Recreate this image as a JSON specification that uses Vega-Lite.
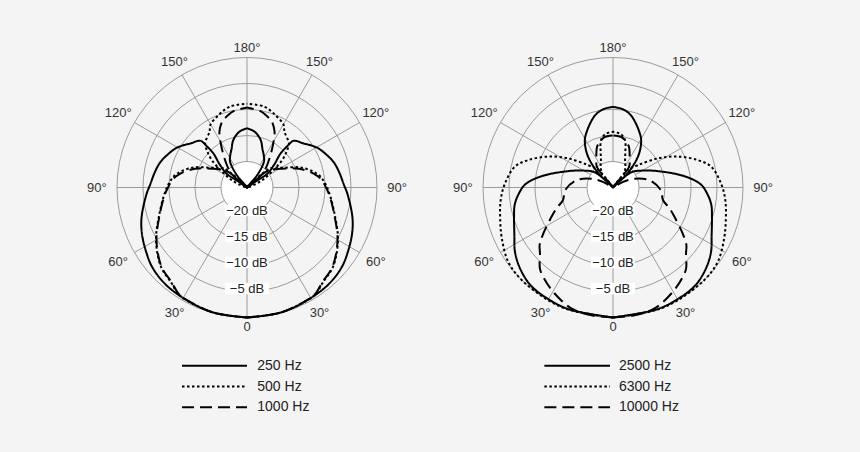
{
  "$schema": "https://vega.github.io/schema/vega-lite/v6.json",
  "background": "#f4f4f4",
  "padding": 0,
  "spacing": 0,
  "config": {"view": {"stroke": null}, "font": "Liberation Sans"},
  "datasets": {
    "rings": [{"db": -20}, {"db": -15}, {"db": -10}, {"db": -5}, {"db": 0}],
    "spokes": [{"a": 0}, {"a": 30}, {"a": 60}, {"a": 90}, {"a": 120}, {"a": 150}, {"a": 180}, {"a": 210}, {"a": 240}, {"a": 270}, {"a": 300}, {"a": 330}],
    "angles": [
      {"t": "0", "a": 0}, {"t": "30°", "a": 30}, {"t": "30°", "a": -30},
      {"t": "60°", "a": 60}, {"t": "60°", "a": -60}, {"t": "90°", "a": 90}, {"t": "90°", "a": -90},
      {"t": "120°", "a": 120}, {"t": "120°", "a": -120}, {"t": "150°", "a": 150}, {"t": "150°", "a": -150},
      {"t": "180°", "a": 180}
    ],
    "dbl": [{"t": "−20 dB", "db": -20}, {"t": "−15 dB", "db": -15}, {"t": "−10 dB", "db": -10}, {"t": "−5 dB", "db": -5}],
    "legL": [{"f": "250 Hz", "k": 0}, {"f": "500 Hz", "k": 1}, {"f": "1000 Hz", "k": 2}],
    "legR": [{"f": "2500 Hz", "k": 0}, {"f": "6300 Hz", "k": 1}, {"f": "10000 Hz", "k": 2}],
    "L": [
      {"f": "250 Hz", "i": 0, "a": 0, "db": 0},
      {"f": "250 Hz", "i": 1, "a": 15, "db": -0.1},
      {"f": "250 Hz", "i": 2, "a": 27, "db": -0.4},
      {"f": "250 Hz", "i": 3, "a": 40, "db": -0.65},
      {"f": "250 Hz", "i": 4, "a": 50, "db": -1.2},
      {"f": "250 Hz", "i": 5, "a": 57.5, "db": -2.0},
      {"f": "250 Hz", "i": 6, "a": 66, "db": -2.9},
      {"f": "250 Hz", "i": 7, "a": 74, "db": -3.9},
      {"f": "250 Hz", "i": 8, "a": 86, "db": -5.6},
      {"f": "250 Hz", "i": 9, "a": 92, "db": -6.4},
      {"f": "250 Hz", "i": 10, "a": 99, "db": -7.0},
      {"f": "250 Hz", "i": 11, "a": 106, "db": -7.6},
      {"f": "250 Hz", "i": 12, "a": 112, "db": -8.4},
      {"f": "250 Hz", "i": 13, "a": 119, "db": -9.4},
      {"f": "250 Hz", "i": 14, "a": 124, "db": -10.4},
      {"f": "250 Hz", "i": 15, "a": 129, "db": -11.4},
      {"f": "250 Hz", "i": 16, "a": 133, "db": -11.9},
      {"f": "250 Hz", "i": 17, "a": 135.3, "db": -12.4},
      {"f": "250 Hz", "i": 18, "a": 135.8, "db": -14},
      {"f": "250 Hz", "i": 19, "a": 135.4, "db": -15.8},
      {"f": "250 Hz", "i": 20, "a": 130, "db": -18.2},
      {"f": "250 Hz", "i": 21, "a": 124, "db": -20.3},
      {"f": "250 Hz", "i": 22, "a": 125, "db": -23},
      {"f": "250 Hz", "i": 23, "a": 130, "db": -25},
      {"f": "250 Hz", "i": 24, "a": 140.5, "db": -21.9},
      {"f": "250 Hz", "i": 25, "a": 146.6, "db": -19.1},
      {"f": "250 Hz", "i": 26, "a": 152, "db": -18.1},
      {"f": "250 Hz", "i": 27, "a": 157.8, "db": -17.1},
      {"f": "250 Hz", "i": 28, "a": 163.9, "db": -15.5},
      {"f": "250 Hz", "i": 29, "a": 172, "db": -14.2},
      {"f": "250 Hz", "i": 30, "a": 180, "db": -13.6},
      {"f": "500 Hz", "i": 0, "a": 0, "db": 0},
      {"f": "500 Hz", "i": 1, "a": 15, "db": -0.1},
      {"f": "500 Hz", "i": 2, "a": 30, "db": -0.45},
      {"f": "500 Hz", "i": 3, "a": 33.4, "db": -0.7},
      {"f": "500 Hz", "i": 4, "a": 38.4, "db": -1.6},
      {"f": "500 Hz", "i": 5, "a": 47.3, "db": -2.5},
      {"f": "500 Hz", "i": 6, "a": 60, "db": -4.8},
      {"f": "500 Hz", "i": 7, "a": 73.8, "db": -7.5},
      {"f": "500 Hz", "i": 8, "a": 84, "db": -8.9},
      {"f": "500 Hz", "i": 9, "a": 90, "db": -9.6},
      {"f": "500 Hz", "i": 10, "a": 95.6, "db": -10.3},
      {"f": "500 Hz", "i": 11, "a": 101.3, "db": -11.3},
      {"f": "500 Hz", "i": 12, "a": 110.5, "db": -14.0},
      {"f": "500 Hz", "i": 13, "a": 118, "db": -16.9},
      {"f": "500 Hz", "i": 14, "a": 124, "db": -18.2},
      {"f": "500 Hz", "i": 15, "a": 129.5, "db": -19.2},
      {"f": "500 Hz", "i": 16, "a": 132, "db": -21},
      {"f": "500 Hz", "i": 17, "a": 135, "db": -25},
      {"f": "500 Hz", "i": 18, "a": 115, "db": -22},
      {"f": "500 Hz", "i": 19, "a": 123, "db": -19.1},
      {"f": "500 Hz", "i": 20, "a": 128, "db": -16.4},
      {"f": "500 Hz", "i": 21, "a": 132, "db": -14.8},
      {"f": "500 Hz", "i": 22, "a": 136.5, "db": -13.3},
      {"f": "500 Hz", "i": 23, "a": 146, "db": -12.1},
      {"f": "500 Hz", "i": 24, "a": 150, "db": -11.0},
      {"f": "500 Hz", "i": 25, "a": 159, "db": -10.0},
      {"f": "500 Hz", "i": 26, "a": 168, "db": -9.1},
      {"f": "500 Hz", "i": 27, "a": 180, "db": -8.9},
      {"f": "1000 Hz", "i": 0, "a": 0, "db": 0},
      {"f": "1000 Hz", "i": 1, "a": 15, "db": -0.1},
      {"f": "1000 Hz", "i": 2, "a": 30, "db": -0.5},
      {"f": "1000 Hz", "i": 3, "a": 33.4, "db": -0.8},
      {"f": "1000 Hz", "i": 4, "a": 38.4, "db": -1.7},
      {"f": "1000 Hz", "i": 5, "a": 47.3, "db": -2.6},
      {"f": "1000 Hz", "i": 6, "a": 60, "db": -4.9},
      {"f": "1000 Hz", "i": 7, "a": 73.8, "db": -7.6},
      {"f": "1000 Hz", "i": 8, "a": 84, "db": -9.0},
      {"f": "1000 Hz", "i": 9, "a": 90, "db": -9.8},
      {"f": "1000 Hz", "i": 10, "a": 96, "db": -10.6},
      {"f": "1000 Hz", "i": 11, "a": 101, "db": -11.7},
      {"f": "1000 Hz", "i": 12, "a": 110, "db": -14.4},
      {"f": "1000 Hz", "i": 13, "a": 118, "db": -17.3},
      {"f": "1000 Hz", "i": 14, "a": 125, "db": -19.0},
      {"f": "1000 Hz", "i": 15, "a": 130, "db": -20.5},
      {"f": "1000 Hz", "i": 16, "a": 134, "db": -25},
      {"f": "1000 Hz", "i": 17, "a": 131, "db": -21.3},
      {"f": "1000 Hz", "i": 18, "a": 137, "db": -19.5},
      {"f": "1000 Hz", "i": 19, "a": 142.4, "db": -17.9},
      {"f": "1000 Hz", "i": 20, "a": 148.7, "db": -15.4},
      {"f": "1000 Hz", "i": 21, "a": 153.8, "db": -13.0},
      {"f": "1000 Hz", "i": 22, "a": 160, "db": -11.3},
      {"f": "1000 Hz", "i": 23, "a": 164, "db": -10.8},
      {"f": "1000 Hz", "i": 24, "a": 170, "db": -10.1},
      {"f": "1000 Hz", "i": 25, "a": 180, "db": -9.6}
    ],
    "R": [
      {"f": "2500 Hz", "i": 0, "a": 0, "db": 0},
      {"f": "2500 Hz", "i": 1, "a": 20, "db": -0.1},
      {"f": "2500 Hz", "i": 2, "a": 30, "db": -0.2},
      {"f": "2500 Hz", "i": 3, "a": 40, "db": -0.4},
      {"f": "2500 Hz", "i": 4, "a": 49, "db": -1.3},
      {"f": "2500 Hz", "i": 5, "a": 57, "db": -2.5},
      {"f": "2500 Hz", "i": 6, "a": 64, "db": -3.9},
      {"f": "2500 Hz", "i": 7, "a": 73, "db": -5.1},
      {"f": "2500 Hz", "i": 8, "a": 80, "db": -5.8},
      {"f": "2500 Hz", "i": 9, "a": 86, "db": -6.8},
      {"f": "2500 Hz", "i": 10, "a": 92, "db": -8.1},
      {"f": "2500 Hz", "i": 11, "a": 99, "db": -11.1},
      {"f": "2500 Hz", "i": 12, "a": 110, "db": -15.8},
      {"f": "2500 Hz", "i": 13, "a": 120, "db": -18.5},
      {"f": "2500 Hz", "i": 14, "a": 130, "db": -20.5},
      {"f": "2500 Hz", "i": 15, "a": 133, "db": -25},
      {"f": "2500 Hz", "i": 16, "a": 134, "db": -21.5},
      {"f": "2500 Hz", "i": 17, "a": 137, "db": -19.5},
      {"f": "2500 Hz", "i": 18, "a": 141, "db": -17.4},
      {"f": "2500 Hz", "i": 19, "a": 145, "db": -15.8},
      {"f": "2500 Hz", "i": 20, "a": 150, "db": -14.2},
      {"f": "2500 Hz", "i": 21, "a": 155, "db": -13.1},
      {"f": "2500 Hz", "i": 22, "a": 160, "db": -12.0},
      {"f": "2500 Hz", "i": 23, "a": 165, "db": -10.9},
      {"f": "2500 Hz", "i": 24, "a": 170, "db": -10.1},
      {"f": "2500 Hz", "i": 25, "a": 175, "db": -9.7},
      {"f": "2500 Hz", "i": 26, "a": 180, "db": -9.5},
      {"f": "6300 Hz", "i": 0, "a": 0, "db": 0},
      {"f": "6300 Hz", "i": 1, "a": 20, "db": 0},
      {"f": "6300 Hz", "i": 2, "a": 30, "db": 0},
      {"f": "6300 Hz", "i": 3, "a": 45, "db": 0},
      {"f": "6300 Hz", "i": 4, "a": 54.7, "db": -0.3},
      {"f": "6300 Hz", "i": 5, "a": 65.5, "db": -1.5},
      {"f": "6300 Hz", "i": 6, "a": 74.7, "db": -2.5},
      {"f": "6300 Hz", "i": 7, "a": 84, "db": -3.3},
      {"f": "6300 Hz", "i": 8, "a": 92, "db": -4.2},
      {"f": "6300 Hz", "i": 9, "a": 102, "db": -5.7},
      {"f": "6300 Hz", "i": 10, "a": 108, "db": -7.9},
      {"f": "6300 Hz", "i": 11, "a": 115.5, "db": -11.2},
      {"f": "6300 Hz", "i": 12, "a": 123, "db": -14.7},
      {"f": "6300 Hz", "i": 13, "a": 132, "db": -18.6},
      {"f": "6300 Hz", "i": 14, "a": 140, "db": -20.6},
      {"f": "6300 Hz", "i": 15, "a": 143, "db": -25},
      {"f": "6300 Hz", "i": 16, "a": 138.7, "db": -21.8},
      {"f": "6300 Hz", "i": 17, "a": 150, "db": -20.3},
      {"f": "6300 Hz", "i": 18, "a": 156.4, "db": -19.2},
      {"f": "6300 Hz", "i": 19, "a": 161, "db": -17.7},
      {"f": "6300 Hz", "i": 20, "a": 165.8, "db": -15.6},
      {"f": "6300 Hz", "i": 21, "a": 172, "db": -14.6},
      {"f": "6300 Hz", "i": 22, "a": 180, "db": -14.3},
      {"f": "10000 Hz", "i": 0, "a": 0, "db": 0},
      {"f": "10000 Hz", "i": 1, "a": 10, "db": -0.1},
      {"f": "10000 Hz", "i": 2, "a": 19, "db": -0.4},
      {"f": "10000 Hz", "i": 3, "a": 30, "db": -1.9},
      {"f": "10000 Hz", "i": 4, "a": 38, "db": -3.2},
      {"f": "10000 Hz", "i": 5, "a": 42, "db": -4.0},
      {"f": "10000 Hz", "i": 6, "a": 48, "db": -6.1},
      {"f": "10000 Hz", "i": 7, "a": 52, "db": -7.1},
      {"f": "10000 Hz", "i": 8, "a": 56.7, "db": -9.0},
      {"f": "10000 Hz", "i": 9, "a": 64.5, "db": -11.9},
      {"f": "10000 Hz", "i": 10, "a": 70, "db": -13.5},
      {"f": "10000 Hz", "i": 11, "a": 76, "db": -15.1},
      {"f": "10000 Hz", "i": 12, "a": 87, "db": -15.8},
      {"f": "10000 Hz", "i": 13, "a": 101, "db": -17.8},
      {"f": "10000 Hz", "i": 14, "a": 112, "db": -20.5},
      {"f": "10000 Hz", "i": 15, "a": 120, "db": -23},
      {"f": "10000 Hz", "i": 16, "a": 125, "db": -25},
      {"f": "10000 Hz", "i": 17, "a": 142, "db": -20},
      {"f": "10000 Hz", "i": 18, "a": 150, "db": -18.6},
      {"f": "10000 Hz", "i": 19, "a": 158.6, "db": -16.6},
      {"f": "10000 Hz", "i": 20, "a": 163, "db": -16},
      {"f": "10000 Hz", "i": 21, "a": 170, "db": -15.2},
      {"f": "10000 Hz", "i": 22, "a": 180, "db": -15}
    ]
  },
  "resolve": {"scale": {"x": "independent", "y": "independent", "radius": "independent", "strokeDash": "independent"}},
  "hconcat": [
    {
      "width": 430,
      "height": 452,
      "encoding": {
        "x": {"field": "x", "type": "quantitative", "scale": {"domain": [-1.9, 1.4077], "zero": false, "nice": false}, "axis": null},
        "y": {"field": "y", "type": "quantitative", "scale": {"domain": [-2.0346, 1.4423], "zero": false, "nice": false}, "axis": null}
      },
      "layer": [
        {
          "data": {"name": "rings"},
          "transform": [{"filter": "datum.db == -20"}, {"calculate": "(datum.db + 25) / 25", "as": "r"}, {"calculate": "0", "as": "x"}, {"calculate": "0", "as": "y"}],
          "mark": {"type": "arc", "theta": 0, "theta2": 6.2832, "fill": "#ffffff", "stroke": null},
          "encoding": {"radius": {"field": "r", "type": "quantitative", "stack": null, "scale": {"type": "linear", "domain": [0, 1], "range": [0, 130], "zero": true}}}
        },
        {
          "data": {"name": "rings"},
          "transform": [{"calculate": "(datum.db + 25) / 25", "as": "r"}, {"calculate": "0", "as": "x"}, {"calculate": "0", "as": "y"}],
          "mark": {"type": "arc", "theta": 0, "theta2": 6.2832, "filled": false, "stroke": "#9b9b9b", "strokeWidth": 1},
          "encoding": {"radius": {"field": "r", "type": "quantitative", "stack": null, "scale": {"type": "linear", "domain": [0, 1], "range": [0, 130], "zero": true}}}
        },
        {
          "data": {"name": "spokes"},
          "transform": [
            {"calculate": "datum.a * PI / 180", "as": "rad"},
            {"calculate": "0.2 * sin(datum.rad)", "as": "x"},
            {"calculate": "-0.2 * cos(datum.rad)", "as": "y"},
            {"calculate": "sin(datum.rad)", "as": "x2"},
            {"calculate": "-cos(datum.rad)", "as": "y2"}
          ],
          "mark": {"type": "rule", "stroke": "#9b9b9b", "strokeWidth": 1},
          "encoding": {"x2": {"field": "x2"}, "y2": {"field": "y2"}}
        },
        {
          "data": {"name": "dbl"},
          "transform": [
            {"calculate": "-((datum.db + 25) / 25 - 0.023)", "as": "y"},
            {"calculate": "-0.17", "as": "xa"},
            {"calculate": "0.17", "as": "xb"},
            {"calculate": "datum.y - 0.045", "as": "ya"},
            {"calculate": "datum.y + 0.045", "as": "yb"}
          ],
          "mark": {"type": "rect", "fill": "#ffffff"},
          "encoding": {
            "x": {"field": "xa", "type": "quantitative"},
            "x2": {"field": "xb"},
            "y": {"field": "ya", "type": "quantitative"},
            "y2": {"field": "yb"}
          }
        },
        {
          "data": {"name": "dbl"},
          "transform": [{"calculate": "0", "as": "x"}, {"calculate": "-((datum.db + 25) / 25 - 0.023)", "as": "y"}],
          "mark": {"type": "text", "fontSize": 13, "color": "#222222", "align": "center", "baseline": "middle"},
          "encoding": {"text": {"field": "t"}}
        },
        {
          "data": {"name": "L"},
          "transform": [
            {"calculate": "(datum.db + 25) / 25", "as": "r"},
            {"calculate": "datum.a * PI / 180", "as": "rad"},
            {"calculate": "datum.r * sin(datum.rad)", "as": "x"},
            {"calculate": "-datum.r * cos(datum.rad)", "as": "y"},
            {"calculate": "-datum.x", "as": "xl"}
          ],
          "layer": [
            {
              "mark": {"type": "line", "stroke": "#000000", "strokeWidth": 2, "interpolate": "catmull-rom", "strokeJoin": "round"},
              "encoding": {
                "order": {"field": "i", "type": "quantitative"},
                "strokeDash": {"field": "f", "type": "nominal", "scale": {"domain": ["250 Hz", "500 Hz", "1000 Hz"], "range": [[1, 0], [2.5, 2.5], [12, 6]]}, "legend": null}
              }
            },
            {
              "mark": {"type": "line", "stroke": "#000000", "strokeWidth": 2, "interpolate": "catmull-rom", "strokeJoin": "round"},
              "encoding": {
                "x": {"field": "xl", "type": "quantitative"},
                "order": {"field": "i", "type": "quantitative"},
                "strokeDash": {"field": "f", "type": "nominal", "legend": null}
              }
            }
          ]
        },
        {
          "data": {"name": "angles"},
          "transform": [
            {"calculate": "datum.a * PI / 180", "as": "rad"},
            {"calculate": "1.075 + 0.08 * abs(sin(datum.rad))", "as": "lr"},
            {"calculate": "datum.lr * sin(datum.rad)", "as": "x"},
            {"calculate": "-datum.lr * cos(datum.rad)", "as": "y"}
          ],
          "mark": {"type": "text", "fontSize": 13, "color": "#333333", "align": "center", "baseline": "middle"},
          "encoding": {"text": {"field": "t"}}
        },
        {
          "data": {"name": "legL"},
          "transform": [
            {"calculate": "-1.371 - 0.16 * datum.k", "as": "y"},
            {"calculate": "-0.5", "as": "x"},
            {"calculate": "0.0", "as": "x2"}
          ],
          "mark": {"type": "rule", "stroke": "#000000", "strokeWidth": 2},
          "encoding": {"x2": {"field": "x2"}, "strokeDash": {"field": "f", "type": "nominal", "legend": null}}
        },
        {
          "data": {"name": "legL"},
          "transform": [
            {"calculate": "-1.371 - 0.16 * datum.k", "as": "y"},
            {"calculate": "0.079", "as": "x"}
          ],
          "mark": {"type": "text", "fontSize": 14, "color": "#222222", "align": "left", "baseline": "middle"},
          "encoding": {"text": {"field": "f"}}
        }
      ]
    },
    {
      "width": 430,
      "height": 452,
      "encoding": {
        "x": {"field": "x", "type": "quantitative", "scale": {"domain": [-1.4077, 1.9], "zero": false, "nice": false}, "axis": null},
        "y": {"field": "y", "type": "quantitative", "scale": {"domain": [-2.0346, 1.4423], "zero": false, "nice": false}, "axis": null}
      },
      "layer": [
        {
          "data": {"name": "rings"},
          "transform": [{"filter": "datum.db == -20"}, {"calculate": "(datum.db + 25) / 25", "as": "r"}, {"calculate": "0", "as": "x"}, {"calculate": "0", "as": "y"}],
          "mark": {"type": "arc", "theta": 0, "theta2": 6.2832, "fill": "#ffffff", "stroke": null},
          "encoding": {"radius": {"field": "r", "type": "quantitative", "stack": null, "scale": {"type": "linear", "domain": [0, 1], "range": [0, 130], "zero": true}}}
        },
        {
          "data": {"name": "rings"},
          "transform": [{"calculate": "(datum.db + 25) / 25", "as": "r"}, {"calculate": "0", "as": "x"}, {"calculate": "0", "as": "y"}],
          "mark": {"type": "arc", "theta": 0, "theta2": 6.2832, "filled": false, "stroke": "#9b9b9b", "strokeWidth": 1},
          "encoding": {"radius": {"field": "r", "type": "quantitative", "stack": null, "scale": {"type": "linear", "domain": [0, 1], "range": [0, 130], "zero": true}}}
        },
        {
          "data": {"name": "spokes"},
          "transform": [
            {"calculate": "datum.a * PI / 180", "as": "rad"},
            {"calculate": "0.2 * sin(datum.rad)", "as": "x"},
            {"calculate": "-0.2 * cos(datum.rad)", "as": "y"},
            {"calculate": "sin(datum.rad)", "as": "x2"},
            {"calculate": "-cos(datum.rad)", "as": "y2"}
          ],
          "mark": {"type": "rule", "stroke": "#9b9b9b", "strokeWidth": 1},
          "encoding": {"x2": {"field": "x2"}, "y2": {"field": "y2"}}
        },
        {
          "data": {"name": "dbl"},
          "transform": [
            {"calculate": "-((datum.db + 25) / 25 - 0.023)", "as": "y"},
            {"calculate": "-0.17", "as": "xa"},
            {"calculate": "0.17", "as": "xb"},
            {"calculate": "datum.y - 0.045", "as": "ya"},
            {"calculate": "datum.y + 0.045", "as": "yb"}
          ],
          "mark": {"type": "rect", "fill": "#ffffff"},
          "encoding": {
            "x": {"field": "xa", "type": "quantitative"},
            "x2": {"field": "xb"},
            "y": {"field": "ya", "type": "quantitative"},
            "y2": {"field": "yb"}
          }
        },
        {
          "data": {"name": "dbl"},
          "transform": [{"calculate": "0", "as": "x"}, {"calculate": "-((datum.db + 25) / 25 - 0.023)", "as": "y"}],
          "mark": {"type": "text", "fontSize": 13, "color": "#222222", "align": "center", "baseline": "middle"},
          "encoding": {"text": {"field": "t"}}
        },
        {
          "data": {"name": "R"},
          "transform": [
            {"calculate": "(datum.db + 25) / 25", "as": "r"},
            {"calculate": "datum.a * PI / 180", "as": "rad"},
            {"calculate": "datum.r * sin(datum.rad)", "as": "x"},
            {"calculate": "-datum.r * cos(datum.rad)", "as": "y"},
            {"calculate": "-datum.x", "as": "xl"}
          ],
          "layer": [
            {
              "mark": {"type": "line", "stroke": "#000000", "strokeWidth": 2, "interpolate": "catmull-rom", "strokeJoin": "round"},
              "encoding": {
                "order": {"field": "i", "type": "quantitative"},
                "strokeDash": {"field": "f", "type": "nominal", "scale": {"domain": ["2500 Hz", "6300 Hz", "10000 Hz"], "range": [[1, 0], [2.5, 2.5], [12, 6]]}, "legend": null}
              }
            },
            {
              "mark": {"type": "line", "stroke": "#000000", "strokeWidth": 2, "interpolate": "catmull-rom", "strokeJoin": "round"},
              "encoding": {
                "x": {"field": "xl", "type": "quantitative"},
                "order": {"field": "i", "type": "quantitative"},
                "strokeDash": {"field": "f", "type": "nominal", "legend": null}
              }
            }
          ]
        },
        {
          "data": {"name": "angles"},
          "transform": [
            {"calculate": "datum.a * PI / 180", "as": "rad"},
            {"calculate": "1.075 + 0.08 * abs(sin(datum.rad))", "as": "lr"},
            {"calculate": "datum.lr * sin(datum.rad)", "as": "x"},
            {"calculate": "-datum.lr * cos(datum.rad)", "as": "y"}
          ],
          "mark": {"type": "text", "fontSize": 13, "color": "#333333", "align": "center", "baseline": "middle"},
          "encoding": {"text": {"field": "t"}}
        },
        {
          "data": {"name": "legR"},
          "transform": [
            {"calculate": "-1.371 - 0.16 * datum.k", "as": "y"},
            {"calculate": "-0.528", "as": "x"},
            {"calculate": "-0.023", "as": "x2"}
          ],
          "mark": {"type": "rule", "stroke": "#000000", "strokeWidth": 2},
          "encoding": {"x2": {"field": "x2"}, "strokeDash": {"field": "f", "type": "nominal", "legend": null}}
        },
        {
          "data": {"name": "legR"},
          "transform": [
            {"calculate": "-1.371 - 0.16 * datum.k", "as": "y"},
            {"calculate": "0.046", "as": "x"}
          ],
          "mark": {"type": "text", "fontSize": 14, "color": "#222222", "align": "left", "baseline": "middle"},
          "encoding": {"text": {"field": "f"}}
        }
      ]
    }
  ]
}
